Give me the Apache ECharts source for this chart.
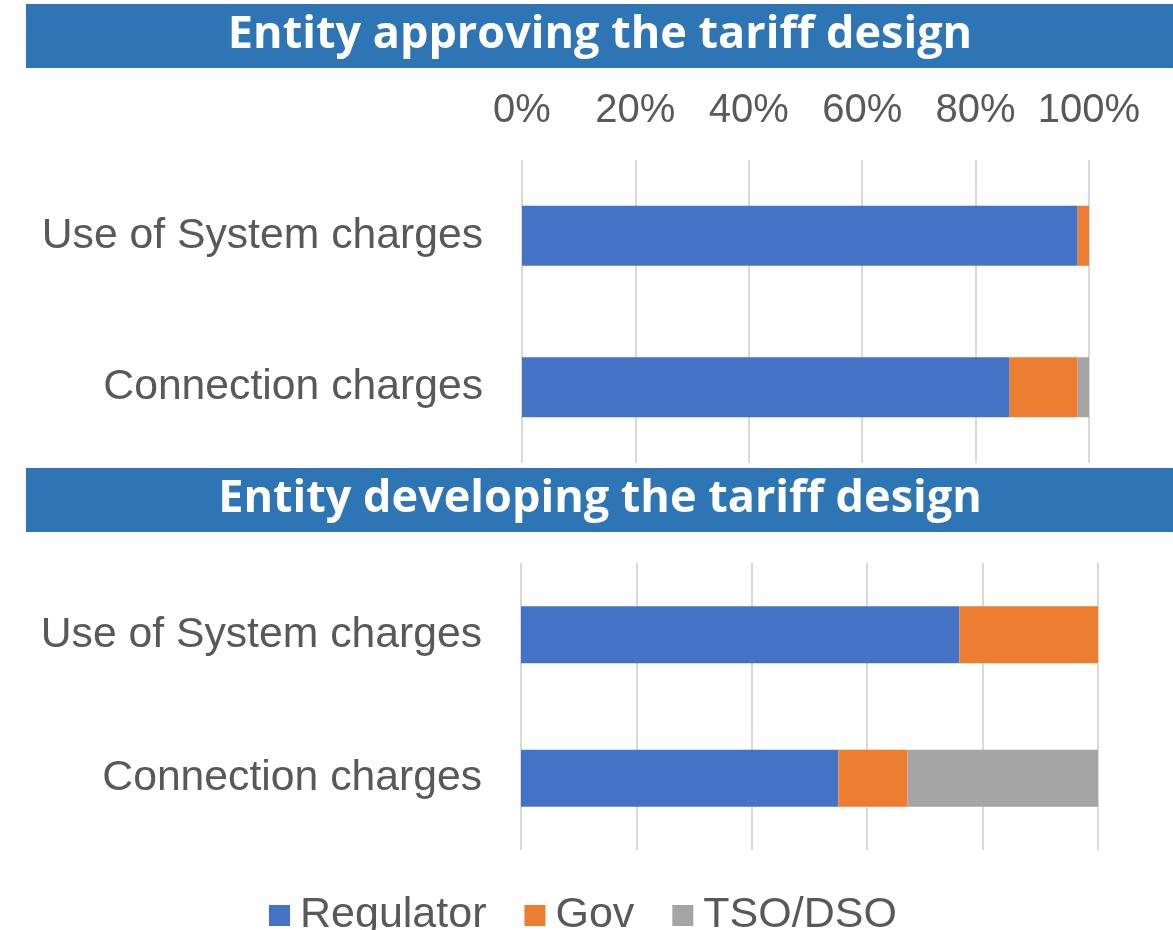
<!DOCTYPE html>
<html>
<head>
<meta charset="utf-8">
<title>Entity approving / developing the tariff design</title>
<script src="https://cdn.jsdelivr.net/npm/echarts@6/dist/echarts.min.js"></script>
<style>
  html, body { margin: 0; padding: 0; background: #ffffff; }
  #chart { width: 1173px; height: 930px; }
</style>
</head>
<body>
<div id="chart"></div>
<script>
// Charge types shown on both panels
const categories = ['Use of System charges', 'Connection charges'];

// Share (%) of responses: who approves the tariff design
const approvingRegulator = [98, 86];
const approvingGov = [2, 12];
const approvingTsoDso = [0, 2];

// Share (%) of responses: who develops the tariff design
const developingRegulator = [76, 55];
const developingGov = [24, 12];
const developingTsoDso = [0, 33];

const percentTicks = [0, 20, 40, 60, 80, 100];

const seriesNames = ['Regulator', 'Gov', 'TSO/DSO'];
const seriesColors = ['#4472C4', '#ED7D31', '#A5A5A5'];

const panelTitles = ['Entity approving the tariff design', 'Entity developing the tariff design'];

const textGrey = '#595959';
const gridGrey = '#D9D9D9';
const bannerBlue = '#2E75B6';

const chart = echarts.init(document.getElementById('chart'), null, { renderer: 'canvas' });

function valueAxis(gridIndex, showLabels) {
  return {
    gridIndex: gridIndex,
    type: 'value',
    position: 'top',
    min: percentTicks[0],
    max: percentTicks[percentTicks.length - 1],
    interval: percentTicks[1] - percentTicks[0],
    axisLine: { show: false },
    axisTick: { show: false },
    axisLabel: {
      show: showLabels,
      formatter: '{value}%',
      fontFamily: 'Liberation Sans, Arial, sans-serif',
      fontSize: 40,
      color: textGrey,
      margin: 29
    },
    splitLine: { show: true, lineStyle: { color: gridGrey, width: 2 } }
  };
}

function categoryAxis(gridIndex) {
  return {
    gridIndex: gridIndex,
    type: 'category',
    data: categories,
    inverse: true,
    axisLine: { show: false },
    axisTick: { show: false },
    axisLabel: {
      fontFamily: 'Liberation Sans, Arial, sans-serif',
      fontSize: 42.7,
      color: textGrey,
      margin: 39,
      padding: [6, 0, 0, 0]
    },
    splitLine: { show: false }
  };
}

function panelSeries(gridIndex, values, barWidth) {
  return values.map((data, i) => ({
    name: seriesNames[i],
    type: 'bar',
    stack: 'panel' + gridIndex,
    xAxisIndex: gridIndex,
    yAxisIndex: gridIndex,
    barWidth: barWidth,
    itemStyle: { color: seriesColors[i] },
    emphasis: { disabled: true },
    data: data
  }));
}

function banner(y, text) {
  return [
    {
      type: 'rect',
      shape: { x: 26, y: y, width: 1147, height: 64 },
      style: { fill: bannerBlue },
      z: 10
    },
    {
      type: 'text',
      x: 600,
      y: y + 31,
      style: {
        text: text,
        fill: '#ffffff',
        font: 'bold 45px "Open Sans", "Noto Sans", sans-serif',
        textAlign: 'center',
        textVerticalAlign: 'middle'
      },
      z: 11
    }
  ];
}

chart.setOption({
  backgroundColor: '#ffffff',
  animation: false,
  color: seriesColors,
  grid: [
    { left: 522, right: 84, top: 160, bottom: 467 },
    { left: 521, right: 75, top: 563, bottom: 80 }
  ],
  xAxis: [valueAxis(0, true), valueAxis(1, false)],
  yAxis: [categoryAxis(0), categoryAxis(1)],
  legend: {
    data: seriesNames,
    left: 264,
    top: 889,
    icon: 'rect',
    itemWidth: 21,
    itemHeight: 21,
    itemGap: 38,
    textStyle: {
      fontFamily: 'Liberation Sans, Arial, sans-serif',
      fontSize: 43,
      color: textGrey,
      padding: [0, 0, 0, 5]
    }
  },
  graphic: [].concat(banner(4, panelTitles[0]), banner(468, panelTitles[1])),
  series: [].concat(
    panelSeries(0, [approvingRegulator, approvingGov, approvingTsoDso], 60),
    panelSeries(1, [developingRegulator, developingGov, developingTsoDso], 57)
  )
});
</script>
</body>
</html>
